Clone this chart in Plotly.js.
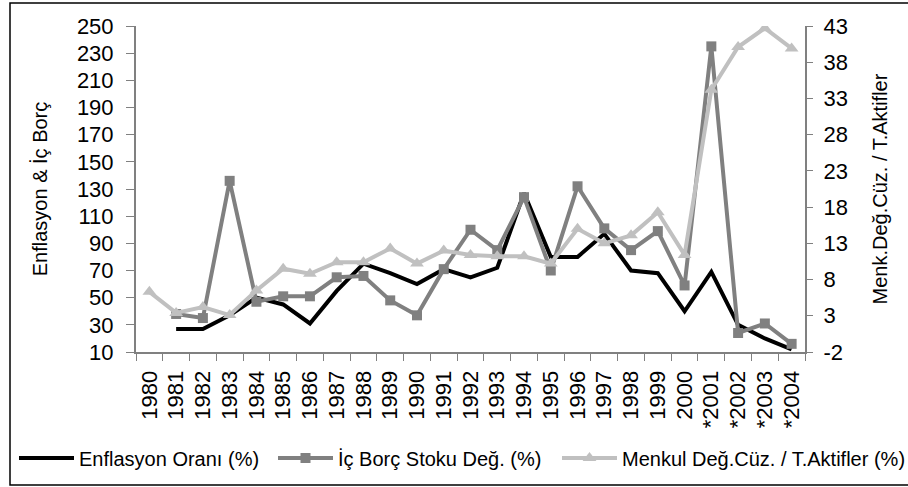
<!DOCTYPE html>
<html>
<head>
<meta charset="utf-8">
<script src="https://cdn.plot.ly/plotly-3.0.1.min.js"></script>
<style>
html,body{margin:0;padding:0;background:#fff;}
#chart{width:908px;height:487px;}
</style>
</head>
<body>
<div id="chart"></div>
<script>
var years = ['1980','1981','1982','1983','1984','1985','1986','1987','1988','1989','1990','1991','1992','1993','1994','1995','1996','1997','1998','1999','2000','*2001','*2002','*2003','*2004'];
var enflasyon = [null, 27, 27, 37, 50, 45, 31, 55, 75, 68, 60, 71, 65, 72, 127, 80, 80, 97, 70, 68, 40, 69, 30, 20, 12];
var icBorc = [null, 38, 35, 136, 47, 51, 51, 65, 66, 48, 37, 71, 100, 85, 124, 70, 132, 101, 85, 99, 59, 235, 24, 31, 16];
var menkul = [6.3, 3.4, 4.2, 3.1, 6.5, 9.5, 8.8, 10.4, 10.4, 12.3, 10.2, 12.0, 11.4, 11.2, 11.2, 10.2, 15.0, 13.0, 14.1, 17.3, 11.4, 34.2, 40.1, 42.7, 39.9];
var leftTicks = [10,30,50,70,90,110,130,150,170,190,210,230,250];
var rightTicks = [-2,3,8,13,18,23,28,33,38,43];

var FONT = 'Liberation Sans, Arial, sans-serif';

var traces = [
  {x: years, y: enflasyon, name: 'Enflasyon Oranı (%)', type: 'scatter', mode: 'lines',
   line: {color: '#000000', width: 4}, yaxis: 'y', legend: 'legend'},
  {x: years, y: icBorc, name: 'İç Borç Stoku Değ. (%)', type: 'scatter', mode: 'lines+markers',
   line: {color: '#808080', width: 4}, marker: {symbol: 'square', size: 10, color: '#808080'},
   yaxis: 'y', legend: 'legend2'},
  {x: years, y: menkul, name: 'Menkul Değ.Cüz. / T.Aktifler (%)', type: 'scatter', mode: 'lines+markers',
   line: {color: '#c0c0c0', width: 4}, marker: {symbol: 'triangle-up', size: 12, color: '#c0c0c0'},
   yaxis: 'y2', legend: 'legend3'}
];

function legendAt(px) {
  return {orientation: 'h', xref: 'container', yref: 'container', x: px / 908, y: (487 - 458) / 487,
          xanchor: 'left', yanchor: 'middle', font: {family: FONT, size: 20, color: '#000'},
          itemwidth: 55, bgcolor: 'rgba(0,0,0,0)', borderwidth: 0};
}

var layout = {
  width: 908, height: 487,
  margin: {l: 136, r: 103, t: 26, b: 135},
  paper_bgcolor: '#ffffff', plot_bgcolor: '#ffffff',
  font: {family: FONT, size: 20, color: '#000000'},
  showlegend: true,
  legend: legendAt(14),
  legend2: legendAt(273),
  legend3: legendAt(557),
  xaxis: {type: 'category', tickmode: 'array', tickvals: years, ticktext: years,
          tickangle: -90, ticks: 'outside', ticklen: 7, tickcolor: '#808080', tickwidth: 1,
          tickson: 'boundaries', showline: true, linecolor: '#808080', linewidth: 2,
          showgrid: false, zeroline: false, tickfont: {family: FONT, size: 22, color: '#000'},
          ticklabelstandoff: 8,
          range: [-0.5, 24.5], automargin: false, fixedrange: true},
  yaxis: {range: [10, 250], tickmode: 'array', tickvals: leftTicks, ticktext: leftTicks.map(String),
          ticks: 'outside', ticklen: 8, tickcolor: '#808080', showline: true, linecolor: '#808080', linewidth: 2,
          showgrid: false, zeroline: false, tickfont: {family: FONT, size: 22, color: '#000'},
          ticklabelstandoff: 8,
          title: {text: 'Enflasyon & İç Borç', font: {family: FONT, size: 20, color: '#000'}, standoff: 24},
          automargin: false, fixedrange: true},
  yaxis2: {range: [-2, 43], overlaying: 'y', side: 'right', tickmode: 'array', tickvals: rightTicks,
          ticktext: rightTicks.map(String), ticks: 'outside', ticklen: 6, tickcolor: '#808080',
          showline: true, linecolor: '#808080', linewidth: 2, showgrid: false, zeroline: false,
          tickfont: {family: FONT, size: 22, color: '#000'}, ticklabelstandoff: 6,
          title: {text: 'Menk.Değ.Cüz. / T.Aktifler', font: {family: FONT, size: 20, color: '#000'}, standoff: 26},
          automargin: false, fixedrange: true},
  shapes: [{type: 'rect', xref: 'paper', yref: 'paper',
            x0: (10 - 136) / 669, x1: (912 - 136) / 669,
            y0: (352 - 485) / 326, y1: (352 - 3) / 326,
            line: {color: '#000000', width: 1.5}, fillcolor: 'rgba(0,0,0,0)', layer: 'below'}]
};

Plotly.newPlot('chart', traces, layout, {displayModeBar: false, staticPlot: true});
</script>
</body>
</html>
